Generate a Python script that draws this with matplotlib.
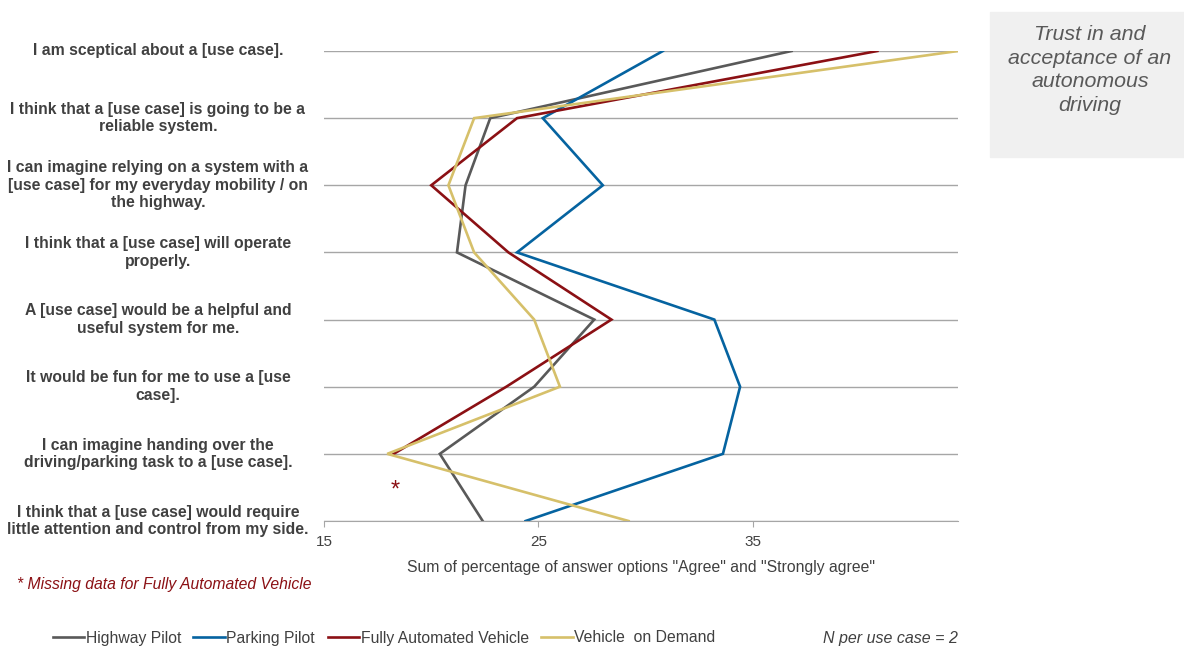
import numpy as np
import matplotlib.pyplot as plt
from matplotlib.patches import Rectangle
from matplotlib.transforms import blended_transform_factory

plt.rcParams['font.family'] = ['Liberation Sans', 'DejaVu Sans']

statements = [
    "I am sceptical about a [use case].",
    "I think that a [use case] is going to be a\nreliable system.",
    "I can imagine relying on a system with a\n[use case] for my everyday mobility / on\nthe highway.",
    "I think that a [use case] will operate\nproperly.",
    "A [use case] would be a helpful and\nuseful system for me.",
    "It would be fun for me to use a [use\ncase].",
    "I can imagine handing over the\ndriving/parking task to a [use case].",
    "I think that a [use case] would require\nlittle attention and control from my side.",
]

highway_pilot = [36.8, 22.75, 21.6, 21.2, 27.6, 24.8, 20.4, 22.4]
parking_pilot = [30.8, 25.2, 28.0, 24.0, 33.2, 34.4, 33.6, 24.4]
fully_automated = [40.8, 24.0, 20.0, 23.6, 28.4, 23.5, 18.25, np.nan]
on_demand = [44.56, 22.0, 20.8, 22.0, 24.8, 26.0, 17.95, 29.2]

series = [
    ("Highway Pilot", highway_pilot, "#595959"),
    ("Parking Pilot", parking_pilot, "#0563a0"),
    ("Fully Automated Vehicle", fully_automated, "#8b1014"),
    ("Vehicle  on Demand", on_demand, "#d6c06a"),
]

txt = "#404040"

fig = plt.figure(figsize=(11.84, 6.48), dpi=100)
ax = fig.add_axes([324 / 1184, 1 - 521 / 648, 634 / 1184, 470 / 648])

rows = np.arange(len(statements))
for name, vals, col in series:
    ax.plot(vals, rows, color=col, lw=1.9, label=name, solid_joinstyle='miter')

ax.set_xlim(15, 44.56)
ax.set_ylim(len(statements) - 1, 0)
ax.set_xticks([15, 25, 35])
ax.set_yticks(rows)
ax.set_yticklabels([])
ax.tick_params(axis='y', length=0)
ax.tick_params(axis='x', colors='#a6a6a6', labelcolor=txt, labelsize=11, length=4, pad=6)
ax.grid(axis='y', color='#a6a6a6', lw=1)
ax.set_axisbelow(True)
for s in ['top', 'left', 'right']:
    ax.spines[s].set_visible(False)
ax.spines['bottom'].set_color('#a6a6a6')
ax.set_xlabel('Sum of percentage of answer options "Agree" and "Strongly agree"',
              fontsize=11.3, color=txt, labelpad=8)

# statement labels, centred in the left margin
tr = blended_transform_factory(fig.transFigure, ax.transData)
for r, s in zip(rows, statements):
    ax.text(158 / 1184, r, s, transform=tr, ha='center', va='center',
            multialignment='center', fontweight='bold', fontsize=11.3,
            color=txt, linespacing=1.22, clip_on=False)

# marker for missing data
ax.text(18.3, 6.55, '*', color='#8b1014', fontsize=17, ha='center', va='center')

fig.text(17 / 1184, 1 - 585 / 648, '* Missing data for Fully Automated Vehicle',
         color='#8b1014', style='italic', fontsize=11.3, va='center')

# title box
fig.patches.append(Rectangle((990 / 1184, 1 - 157 / 648), 194 / 1184, 145 / 648,
                             transform=fig.transFigure, color='#f0f0f0', zorder=0))
fig.text(1090 / 1184, 1 - 70 / 648, 'Trust in and\nacceptance of an\nautonomous\ndriving',
         ha='center', va='center', style='italic', fontsize=15.4, color='#595959',
         linespacing=1.32)

fig.legend(loc='center', bbox_to_anchor=(384 / 1184, 1 - 638 / 648), ncol=4,
           frameon=False, fontsize=11.3, labelcolor=txt, handlelength=2.0,
           handletextpad=0.1, columnspacing=0.8)
fig.text(958 / 1184, 1 - 638 / 648, 'N per use case = 2', ha='right', va='center',
         style='italic', fontsize=11.5, color=txt)

fig.savefig('out.png', dpi=100)
